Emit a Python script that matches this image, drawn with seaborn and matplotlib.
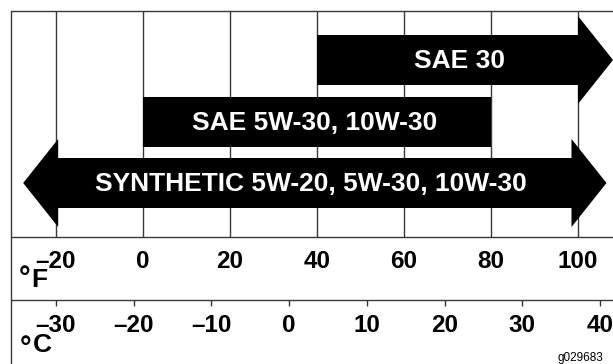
import matplotlib
matplotlib.use("Agg")
import matplotlib.pyplot as plt
import seaborn as sns

# oil grades and their temperature ranges (deg F)
oil_labels = ["SAE 30", "SAE 5W-30, 10W-30", "SYNTHETIC 5W-20, 5W-30, 10W-30"]
low_f = [40, 0, -19.5]
high_f = [100, 80, 98.5]
open_left = [False, False, True]
open_right = [True, False, True]

f_ticks = [-20, 0, 20, 40, 60, 80, 100]
f_labels = ["\u201320", "0", "20", "40", "60", "80", "100"]
c_ticks = [-30, -20, -10, 0, 10, 20, 30, 40]
c_labels = ["\u201330", "\u201320", "\u201310", "0", "10", "20", "30", "40"]

sns.set_theme(style="white")
plt.rcParams["font.family"] = ["Liberation Sans", "DejaVu Sans"]
plt.rcParams["text.color"] = "black"

W, H = 613, 364
fig = plt.figure(figsize=(W / 100, H / 100), dpi=100)

# px -> deg F : -20F at x=56, 4.35 px per degree
px_f = 4.35
ax = fig.add_axes([0, 0, 1, 1])
ax.set_xlim(-20 - 56 / px_f, -20 + (W - 56) / px_f)
ax.set_ylim(H, 0)
ax.axis("off")

# celsius scale drawn on an overlay with its own x scale
px_c = 7.771
axc = fig.add_axes([0, 0, 1, 1])
axc.set_xlim(-30 - 56 / px_c, -30 + (W - 56) / px_c)
axc.set_ylim(H, 0)
axc.axis("off")
axc.patch.set_alpha(0)

lc = "#383838"
lw = 1.0
x_left = -20 - 45 / px_f
x_right = ax.get_xlim()[1] + 5

# frame and bands
ax.plot([x_left, x_right], [11, 11], color=lc, lw=lw, clip_on=False)
ax.plot([x_left, x_left], [11, H + 5], color=lc, lw=lw, clip_on=False)
ax.plot([x_left, x_right], [237, 237], color=lc, lw=lw, clip_on=False)
ax.plot([x_left, x_right], [300, 300], color=lc, lw=lw, clip_on=False)
ax.vlines(f_ticks, 11, 237, color=lc, lw=lw)

# arrows
rows_y = [60, 122, 183]
half_body = 25
half_head = 44
head_len = 35 / px_f
for lo, hi, ol, orr, yc in zip(low_f, high_f, open_left, open_right, rows_y):
    xs = [lo, hi]
    ys = [yc - half_body, yc - half_body]
    if orr:
        xs += [hi, hi + head_len, hi, hi]
        ys += [yc - half_head, yc, yc + half_head, yc + half_body]
    else:
        xs += [hi]
        ys += [yc + half_body]
    xs += [lo]
    ys += [yc + half_body]
    if ol:
        xs += [lo, lo - head_len, lo]
        ys += [yc + half_head, yc, yc - half_head]
    ax.fill(xs, ys, color="black", lw=0, zorder=3)

# labels inside arrows
label_px = [460, 315, 311]
for lab, px, yc in zip(oil_labels, label_px, rows_y):
    ax.text(-20 + (px - 56) / px_f, yc + 1, lab, color="white", fontsize=19,
            fontweight="bold", ha="center", va="center", zorder=4)

# fahrenheit labels
for v, t in zip(f_ticks, f_labels):
    ax.text(v, 261, t, fontsize=17.5, fontweight="bold", ha="center", va="center")
ax.text(-20 - 31 / px_f, 279, "\u00b0", fontsize=21, fontweight="bold", ha="center", va="center")
ax.text(-20 - 17 / px_f, 280, "F", fontsize=19, fontweight="bold", ha="center", va="center")

# celsius ticks and labels
axc.vlines(c_ticks, 300, 305.5, color=lc, lw=lw)
for v, t in zip(c_ticks, c_labels):
    axc.text(v, 325, t, fontsize=17.5, fontweight="bold", ha="center", va="center")
ax.text(-20 - 30 / px_f, 349, "\u00b0", fontsize=21, fontweight="bold", ha="center", va="center")
ax.text(-20 - 14 / px_f, 345, "C", fontsize=19, fontweight="bold", ha="center", va="center")

fig.text(558 / W, 1 - 358 / H, "g029683", fontsize=8.5, ha="left", va="center")

fig.savefig("out.png", dpi=100)
plt.close(fig)
